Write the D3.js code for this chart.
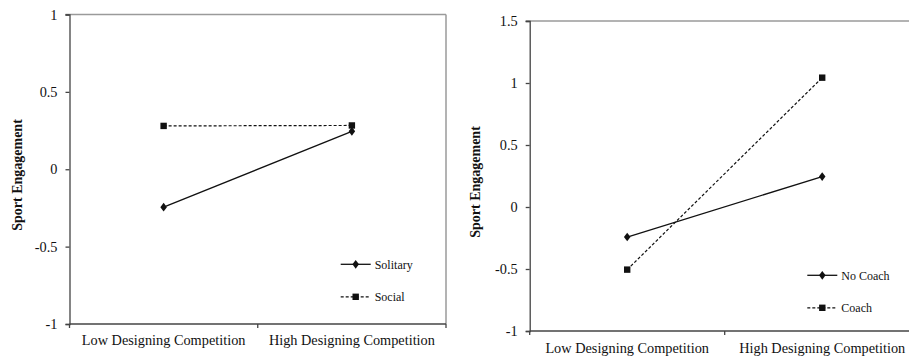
<!DOCTYPE html>
<html>
<head>
<meta charset="utf-8">
<script src="https://cdn.jsdelivr.net/npm/d3@7"></script>
<style>
  body { margin: 0; background: #fff; }
  svg { display: block; }
  text { font-family: "Liberation Serif", "Times New Roman", serif; fill: #111; }
</style>
</head>
<body>
<svg id="chart" width="909" height="359"></svg>
<script>
// categories shared by both panels
var categories = ["Low Designing Competition", "High Designing Competition"];

// left panel
var leftTicks = [-1, -0.5, 0, 0.5, 1];
var solitary = [-0.245, 0.245];
var social = [0.28, 0.283];

// right panel
var rightTicks = [-1, -0.5, 0, 0.5, 1, 1.5];
var noCoach = [-0.242, 0.245];
var coach = [-0.505, 1.043];

var svg = d3.select("#chart");

function drawPanel(opts) {
  var g = svg.append("g");

  var x = d3.scaleBand().domain(categories).range([opts.x0, opts.x1]);
  var y = d3.scaleLinear().domain(opts.domain).range([opts.y1, opts.y0]);

  // grey frame on top and right
  g.append("line")
    .attr("x1", opts.x0 - 4).attr("x2", opts.frameRight)
    .attr("y1", opts.y0).attr("y2", opts.y0)
    .attr("stroke", "#9a9a9a").attr("stroke-width", 1.5);
  if (opts.frameRight < 909) {
    g.append("line")
      .attr("x1", opts.frameRight).attr("x2", opts.frameRight)
      .attr("y1", opts.y0).attr("y2", opts.y1)
      .attr("stroke", "#9a9a9a").attr("stroke-width", 1.5);
  }

  // y axis
  var yAxis = g.append("g")
    .attr("transform", "translate(" + opts.x0 + ",0)")
    .call(d3.axisLeft(y).tickValues(opts.ticks).tickSize(4).tickPadding(8)
      .tickFormat(function(d) { return d === 0 ? "0" : String(d); }));
  yAxis.select(".domain").attr("stroke", "#444").attr("stroke-width", 1.3);
  yAxis.selectAll(".tick line").attr("stroke", "#444").attr("stroke-width", 1.3);
  yAxis.selectAll("text")
    .attr("font-family", "Liberation Serif")
    .attr("font-size", 14.3).attr("fill", "#111");

  // x axis (ticks between categories)
  var xg = g.append("g").attr("transform", "translate(0," + opts.y1 + ")");
  xg.append("line")
    .attr("x1", opts.x0).attr("x2", opts.frameRight)
    .attr("stroke", "#444").attr("stroke-width", 1.3);
  var mid = x(categories[1]);
  [opts.x0, mid, opts.frameRight].forEach(function(t) {
    xg.append("line").attr("x1", t).attr("x2", t).attr("y1", 0).attr("y2", 4)
      .attr("stroke", "#444").attr("stroke-width", 1.3);
  });
  xg.selectAll("text.cat").data(categories).enter().append("text")
    .attr("class", "cat")
    .attr("x", function(d) { return x(d) + x.bandwidth() / 2; })
    .attr("y", opts.labelY - opts.y1)
    .attr("text-anchor", "middle")
    .attr("font-size", 14.3)
    .text(function(d) { return d; });

  // y title
  g.append("text")
    .attr("transform", "translate(" + opts.titleX + "," + opts.titleY + ") rotate(-90)")
    .attr("text-anchor", "middle")
    .attr("font-weight", "bold")
    .attr("font-size", 14)
    .text("Sport Engagement");

  var cx = function(i) { return x(categories[i]) + x.bandwidth() / 2; };
  var line = d3.line().x(function(d, i) { return cx(i); }).y(function(d) { return y(d); });
  var diamond = d3.symbol().type(d3.symbolDiamond).size(22);

  // solid series (diamonds)
  g.append("path").datum(opts.solid)
    .attr("d", line).attr("fill", "none")
    .attr("stroke", "#111").attr("stroke-width", 1.3);
  // dashed series (squares)
  g.append("path").datum(opts.dashed)
    .attr("d", line).attr("fill", "none")
    .attr("stroke", "#111").attr("stroke-width", 1.2)
    .attr("stroke-dasharray", "3,2");

  g.selectAll(".dia").data(opts.solid).enter().append("path")
    .attr("transform", function(d, i) { return "translate(" + cx(i) + "," + y(d) + ") scale(1.3,1)"; })
    .attr("d", diamond).attr("fill", "#111");
  g.selectAll(".sq").data(opts.dashed).enter().append("rect")
    .attr("x", function(d, i) { return cx(i) - 3.2; })
    .attr("y", function(d) { return y(d) - 3.2; })
    .attr("width", 6.4).attr("height", 6.4)
    .attr("fill", "#111");

  // legend
  var lg = g.append("g").attr("transform", "translate(" + opts.legX + "," + opts.legY + ")");
  lg.append("line").attr("x1", 0).attr("x2", 30).attr("y1", 0).attr("y2", 0)
    .attr("stroke", "#111").attr("stroke-width", 1.3);
  lg.append("path").attr("transform", "translate(15,0) scale(1.3,1)").attr("d", diamond).attr("fill", "#111");
  lg.append("text").attr("x", 34).attr("y", 4.5).attr("font-size", 12).text(opts.names[0]);
  lg.append("line").attr("x1", 0).attr("x2", 30).attr("y1", 32.5).attr("y2", 32.5)
    .attr("stroke", "#111").attr("stroke-width", 1.2).attr("stroke-dasharray", "3,2");
  lg.append("rect").attr("x", 11.8).attr("y", 29.3).attr("width", 6.4).attr("height", 6.4).attr("fill", "#111");
  lg.append("text").attr("x", 34).attr("y", 37).attr("font-size", 12).text(opts.names[1]);
}

drawPanel({
  x0: 69.5, x1: 446, frameRight: 446, y0: 14.5, y1: 324,
  domain: [-1, 1], ticks: leftTicks,
  solid: solitary, dashed: social, names: ["Solitary", "Social"],
  labelY: 345, titleX: 22, titleY: 175,
  legX: 340.7, legY: 264.3
});

drawPanel({
  x0: 529.7, x1: 919.7, frameRight: 919.7, y0: 21, y1: 331,
  domain: [-1, 1.5], ticks: rightTicks,
  solid: noCoach, dashed: coach, names: ["No Coach", "Coach"],
  labelY: 353, titleX: 480, titleY: 182,
  legX: 807.3, legY: 275.3
});
</script>
</body>
</html>
